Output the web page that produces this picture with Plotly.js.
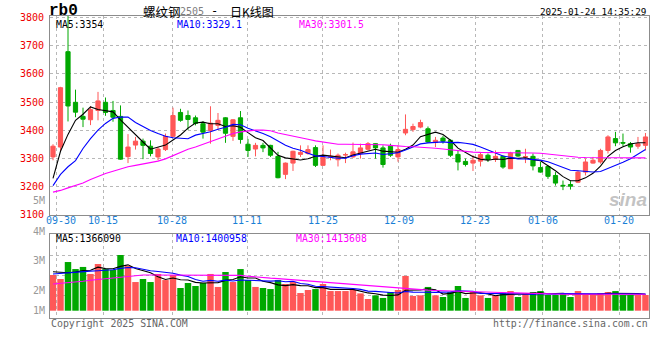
<!DOCTYPE html>
<html><head><meta charset="utf-8">
<script src="https://cdn.plot.ly/plotly-3.0.1.min.js"></script>
<style>html,body{margin:0;padding:0;background:#fff}#chart{width:660px;height:360px}</style>
</head><body><div id="chart"></div>
<script>
const dates = ["09-27","09-30","10-08","10-09","10-10","10-11","10-14","10-15","10-16","10-17","10-18","10-21","10-22","10-23","10-24","10-25","10-28","10-29","10-30","10-31","11-01","11-04","11-05","11-06","11-07","11-08","11-11","11-12","11-13","11-14","11-15","11-18","11-19","11-20","11-21","11-22","11-25","11-26","11-27","11-28","11-29","12-02","12-03","12-04","12-05","12-06","12-09","12-10","12-11","12-12","12-13","12-16","12-17","12-18","12-19","12-20","12-23","12-24","12-25","12-26","12-27","12-30","12-31","01-02","01-03","01-06","01-07","01-08","01-09","01-10","01-13","01-14","01-15","01-16","01-17","01-20","01-21","01-22","01-23","01-24"];
const open = [3305,3340,3679,3499,3449,3437,3470,3499,3470,3449, 3306,3347,3361,3343,3305,3331,3378,3463,3452,3444, 3423,3399,3417,3444,3378,3444,3350,3333,3346,3346, 3307,3243,3283,3314,3317,3338,3275,3305,3295,3312, 3305,3317,3332,3352,3337,3343,3305,3390,3402,3411, 3405,3356,3372,3364,3314,3289,3283,3290,3311,3296, 3307,3263,3328,3304,3307,3267,3271,3239,3204,3207, 3215,3251,3283,3287,3328,3370,3356,3352,3343,3346];
const high = [3350,3554,3830,3544,3480,3486,3536,3516,3504,3488, 3386,3376,3370,3364,3340,3388,3480,3476,3470,3452, 3432,3485,3461,3446,3439,3468,3369,3355,3355,3348, 3323,3285,3327,3346,3346,3346,3346,3331,3317,3320, 3356,3352,3358,3353,3346,3352,3346,3456,3423,3437, 3413,3376,3380,3367,3328,3299,3311,3319,3317,3328, 3311,3323,3329,3334,3317,3287,3275,3251,3221,3219, 3257,3299,3305,3334,3382,3394,3388,3358,3376,3390];
const low = [3293,3324,3431,3446,3411,3418,3435,3451,3430,3295, 3283,3331,3297,3307,3293,3326,3374,3430,3401,3417, 3370,3352,3401,3355,3362,3352,3305,3307,3322,3305, 3229,3226,3255,3305,3313,3269,3273,3293,3271,3283, 3302,3299,3328,3299,3267,3305,3288,3382,3394,3407, 3355,3340,3352,3305,3257,3271,3255,3271,3287,3287, 3263,3262,3305,3283,3257,3249,3227,3203,3187,3189, 3212,3239,3281,3281,3317,3343,3343,3320,3334,3328];
const close = [3343,3551,3486,3464,3439,3473,3504,3463,3446,3297, 3340,3361,3346,3317,3333,3378,3452,3435,3438,3424, 3393,3425,3435,3389,3437,3367,3328,3346,3337,3311, 3231,3283,3325,3321,3331,3275,3305,3307,3311,3313, 3323,3337,3352,3337,3278,3311,3331,3403,3413,3427, 3358,3364,3361,3311,3287,3278,3293,3313,3296,3307, 3269,3319,3308,3306,3273,3251,3236,3212,3202,3201, 3251,3287,3293,3328,3376,3355,3354,3340,3352,3376];
const ma5 = [3229,3325,3385,3435,3456.6,3482.6,3473.2,3468.6,3465,3436.6, 3410,3381.4,3358,3332.2,3339.4,3347,3365.2,3383,3407.2,3425.4, 3428.4,3423,3423,3413.2,3415.8,3410.6,3391.2,3373.4,3363,3337.8, 3310.6,3301.6,3297.4,3294.2,3298.2,3307,3311.4,3307.8,3305.8,3302.2, 3311.8,3318.2,3327.2,3332.4,3325.4,3323,3321.8,3332,3347.2,3377, 3386.4,3393,3384.6,3364.2,3336.2,3320.2,3306,3296.4,3293.4,3297.4, 3295.6,3300.8,3299.8,3301.8,3295,3291.4,3274.8,3255.6,3234.8,3220.4, 3220.4,3230.6,3246.8,3272,3307,3327.8,3341.2,3350.6,3355.4,3355.4];
const ma10 = [3203,3243,3270,3292,3335,3370,3400,3424,3442,3446.6, 3446.3,3427.3,3413.3,3398.6,3388,3378.5,3373.3,3370.5,3369.7,3382.4, 3387.7,3394.1,3403,3410.2,3420.6,3419.5,3407.1,3398.2,3388.1,3376.8, 3360.6,3346.4,3335.4,3328.6,3318,3308.8,3306.5,3302.6,3300,3300.2, 3309.4,3314.8,3317.5,3319.1,3313.8,3317.4,3320,3329.6,3339.8,3351.2, 3354.7,3357.4,3358.3,3355.7,3356.6,3353.3,3349.5,3340.5,3328.8,3316.8, 3307.9,3303.4,3298.1,3297.6,3296.2,3293.5,3287.8,3277.7,3268.3,3257.7, 3255.9,3252.7,3251.2,3253.4,3263.7,3274.1,3285.9,3298.7,3313.7,3331.2];
const ma30 = [3180,3186,3195,3203,3212,3225,3236,3246,3254,3262, 3270,3275,3280,3284,3290,3298,3310,3322,3332,3340, 3350,3360,3370,3380,3388,3394,3398,3400,3400,3398, 3390,3385,3380,3375,3368,3362,3358,3352,3350,3350, 3350,3350,3350,3350,3348,3346,3343,3342,3341,3340, 3338,3336,3333,3330,3327,3324,3322,3321,3321,3321, 3321,3321,3321,3320,3319,3318,3315,3312,3309,3306, 3304,3303,3303,3303,3302,3302,3301.5,3301.5,3301.5,3301.5];
// volume in millions of lots
const volume = [3.05,2.71,4.16,3.56,3.74,3.14,3.99,3.56,3.48,4.76, 3.82,2.45,2.71,2.45,3.14,2.62,3.05,1.94,2.37,2.11, 2.37,3.14,2.03,3.31,2.45,3.56,2.62,2.03,1.94,1.85, 2.62,2.28,2.45,1.51,1.77,1.85,2.28,1.68,1.68,1.68, 1.77,1.48,1.0,1.31,1.09,1.6,1.77,2.97,1.26,1.31, 2.03,1.31,1.17,1.6,2.11,1.09,1.6,1.31,1.09,1.31, 1.54,1.68,1.17,1.48,1.6,1.68,1.34,1.34,1.51,1.17, 1.68,1.34,1.34,1.51,1.6,1.68,1.34,1.34,1.34,1.34];
const volMa5 = [3.33,3.28,3.25,3.3,3.44,3.46,3.72,3.6,3.58,3.79, 3.92,3.61,3.44,3.24,2.91,2.67,2.79,2.64,2.62,2.42, 2.37,2.39,2.4,2.59,2.66,2.9,2.79,2.79,2.52,2.4, 2.21,2.14,2.23,2.14,2.13,1.97,1.97,1.82,1.85,1.83, 1.82,1.66,1.52,1.45,1.33,1.3,1.35,1.75,1.74,1.78, 1.87,1.78,1.42,1.48,1.64,1.46,1.51,1.54,1.44,1.28, 1.37,1.39,1.36,1.44,1.49,1.52,1.45,1.49,1.49,1.41, 1.41,1.41,1.41,1.41,1.49,1.49,1.49,1.49,1.46,1.40];
const volMa10 = [3.14,3.2,3.25,3.3,3.33,3.38,3.42,3.46,3.5,3.62, 3.69,3.67,3.52,3.41,3.35,3.3,3.2,3.04,2.93,2.67, 2.52,2.59,2.52,2.61,2.54,2.63,2.59,2.6,2.56,2.53, 2.56,2.47,2.51,2.33,2.26,2.09,2.06,2.02,2.0,1.98, 1.9,1.82,1.67,1.65,1.58,1.56,1.51,1.64,1.59,1.56, 1.58,1.57,1.58,1.61,1.71,1.66,1.65,1.48,1.46,1.46, 1.41,1.45,1.45,1.44,1.39,1.45,1.42,1.42,1.47,1.45, 1.47,1.43,1.45,1.45,1.45,1.45,1.45,1.45,1.43,1.42];
const volMa30 = [2.28,2.33,2.38,2.45,2.52,2.6,2.67,2.73,2.8,2.9, 2.97,3.02,3.05,3.05,3.05,3.05,3.05,3.05,3.05,3.05, 3.05,3.05,3.05,3.05,3.05,3.02,2.95,2.88,2.83,2.78, 2.74,2.69,2.64,2.58,2.53,2.48,2.43,2.36,2.32,2.3, 2.24,2.16,2.1,2.06,2.03,1.98,1.92,1.88,1.82,1.78, 1.76,1.73,1.71,1.69,1.66,1.63,1.62,1.61,1.6,1.57, 1.54,1.52,1.47,1.44,1.42,1.4,1.4,1.4,1.4,1.4, 1.4,1.4,1.4,1.4,1.41,1.41,1.41,1.41,1.41,1.41];
const dateTickLabels = ["09-30","10-15","10-28","11-11","11-25","12-09","12-23","01-06","01-20"];
const priceTicks = [3100,3200,3300,3400,3500,3600,3700,3800];
const volAxisLabels = ["5M","4M","3M","2M","1M"];
const priceMaText = ["MA5:3354","MA10:3329.1","MA30:3301.5"];
const volMaText = ["MA5:1366090","MA10:1400958","MA30:1413608"];

const RED = '#ff5757', GREEN = '#00a800';
const idx = dates.map((d, i) => i);
const volColors = idx.map(i => close[i] >= open[i] ? RED : GREEN);
const mono = 'DejaVu Sans Mono';

const traces = [
  {type:'candlestick', x: idx, open, high, low, close, xaxis:'x', yaxis:'y',
   increasing:{line:{color:RED,width:1}, fillcolor:RED},
   decreasing:{line:{color:GREEN,width:1}, fillcolor:GREEN},
   whiskerwidth:0, hoverinfo:'skip'},
  {type:'scatter', mode:'lines', x: idx, y: ma5, line:{color:'#000000', width:1.1}, xaxis:'x', yaxis:'y', hoverinfo:'skip'},
  {type:'scatter', mode:'lines', x: idx, y: ma10, line:{color:'#0000ff', width:1.1}, xaxis:'x', yaxis:'y', hoverinfo:'skip'},
  {type:'scatter', mode:'lines', x: idx, y: ma30, line:{color:'#ff00ff', width:1.1}, xaxis:'x', yaxis:'y', hoverinfo:'skip'},
  {type:'bar', x: idx, y: volume, width: 0.86, marker:{color: volColors, line:{width:0}}, xaxis:'x2', yaxis:'y2', hoverinfo:'skip'},
  {type:'scatter', mode:'lines', x: idx, y: volMa5, line:{color:'#000000', width:1.1}, xaxis:'x2', yaxis:'y2', hoverinfo:'skip'},
  {type:'scatter', mode:'lines', x: idx, y: volMa10, line:{color:'#0000ff', width:1.1}, xaxis:'x2', yaxis:'y2', hoverinfo:'skip'},
  {type:'scatter', mode:'lines', x: idx, y: volMa30, line:{color:'#ff00ff', width:1.1}, xaxis:'x2', yaxis:'y2', hoverinfo:'skip'}
];

const W = 660, H = 360, ML = 50, MR = 11, MT = 16, MB = 42;
const PW = W - ML - MR, PH = H - MT - MB;
const ax = px => (px - ML) / PW;
const ay = py => (H - MB - py) / PH;

// gridline positions (in bar-index units) and label anchor positions
const gridPos = [0.53, 6.67, 15.87, 25.87, 36, 46.13, 56.27, 65.33, 75.47];
const labelPos = [1.0, 6.67, 15.87, 25.87, 36, 46.13, 56.27, 65.33, 75.47];
const gridCol = '#b8b8b8', frameCol = '#8c8c8c';

function ann(text, px, py, xanchor, color, size, family, extra) {
  return Object.assign({text, x: ax(px), y: ay(py), xref:'paper', yref:'paper', xanchor, yanchor:'middle',
    showarrow:false, borderpad:0, font:{family: family || mono, size: size || 10, color: color || '#000'}}, extra || {});
}

const annotations = [
  ann('rb0', 48, 10.5, 'left', '#000', 16, 'Liberation Mono', {font:{family:'Liberation Mono', size:16, color:'#000', weight:'bold'}}),
  ann('螺纹钢', 142, 11, 'left', '#000', 12.5, 'Noto Sans CJK SC'),
  ann('2505', 179, 11.5, 'left', '#808080', 10, mono),
  ann('-', 214, 11, 'center', '#000', 12, mono),
  ann('日K线图', 229, 11, 'left', '#000', 12, 'Noto Sans CJK SC'),
  ann('2025-01-24 14:35:29', 647, 11.5, 'right', '#000', 9.3, mono),
  ann(priceMaText[0], 55, 24, 'left', '#000000', 9.8),
  ann(priceMaText[1], 176, 24, 'left', '#0000ff', 9.8),
  ann(priceMaText[2], 298, 24, 'left', '#ff00ff', 9.8),
  ann(volMaText[0], 55, 238.5, 'left', '#000000', 9.8),
  ann(volMaText[1], 175, 238.5, 'left', '#0000ff', 9.8),
  ann(volMaText[2], 295, 238.5, 'left', '#ff00ff', 9.8),
  ann(volAxisLabels[0], 46, 200.3, 'right', '#999999', 10),
  ann(volAxisLabels[1], 46, 231, 'right', '#999999', 10),
  ann(volAxisLabels[2], 46, 260.7, 'right', '#999999', 10),
  ann(volAxisLabels[3], 46, 290.5, 'right', '#999999', 10),
  ann(volAxisLabels[4], 46, 310, 'right', '#999999', 10),
  ann('Copyright 2025 SINA.COM', 50, 323.5, 'left', '#666666', 9.9),
  ann('http://finance.sina.com.cn', 649, 323.5, 'right', '#666666', 9.9),
  ann('<i><b>sina</b></i>', 628, 199, 'center', 'rgba(175,175,175,0.75)', 19, 'Liberation Sans')
];
dateTickLabels.forEach((t, k) => {
  annotations.push({text: t, x: labelPos[k], xref:'x', y: ay(220.5), yref:'paper', xanchor:'center', yanchor:'middle',
    showarrow:false, borderpad:0, font:{family:mono, size:10, color:'#1a7fd6'}});
});

const layout = {
  width: W, height: H, margin:{l:ML, r:MR, t:MT, b:MB, pad:0},
  paper_bgcolor:'#ffffff', plot_bgcolor:'#ffffff', showlegend:false,
  boxmode:'overlay', boxgap:0.2, bargap:0.14, barmode:'overlay',
  hovermode:false,
  xaxis:{domain:[0,1], anchor:'y', range:[-0.4, 79.47], rangeslider:{visible:false},
    tickmode:'array', tickvals: gridPos, showticklabels:false, ticks:'',
    showgrid:true, gridcolor:gridCol, griddash:'dot', gridwidth:1, zeroline:false,
    showline:true, mirror:true, linecolor:frameCol, linewidth:1, fixedrange:true},
  yaxis:{domain:[ay(214.6), 1], anchor:'x', range:[3100, 3805.7],
    tickmode:'array', tickvals: priceTicks, ticktext: priceTicks.map(String), ticks:'', ticklabelstandoff:3,
    tickfont:{family:mono, size:10, color:'#ee0000'},
    showgrid:true, gridcolor:gridCol, griddash:'dot', gridwidth:1, zeroline:false,
    showline:true, mirror:true, linecolor:frameCol, linewidth:1, fixedrange:true},
  xaxis2:{domain:[0,1], anchor:'y2', matches:'x', range:[-0.4, 79.47],
    tickmode:'array', tickvals: gridPos, showticklabels:false, ticks:'',
    showgrid:true, gridcolor:gridCol, griddash:'dot', gridwidth:1, zeroline:false,
    showline:true, mirror:true, linecolor:frameCol, linewidth:1, fixedrange:true},
  yaxis2:{domain:[0, ay(234.3)], anchor:'x2', range:[-0.624, 6.53],
    tickmode:'array', tickvals:[1.316, 3.026, 4.735], showticklabels:false, ticks:'',
    showgrid:true, gridcolor:gridCol, griddash:'dot', gridwidth:1, zeroline:false,
    showline:true, mirror:true, linecolor:frameCol, linewidth:1, fixedrange:true},
  annotations
};

Plotly.newPlot('chart', traces, layout, {staticPlot:true, displayModeBar:false});
</script>
</body></html>
